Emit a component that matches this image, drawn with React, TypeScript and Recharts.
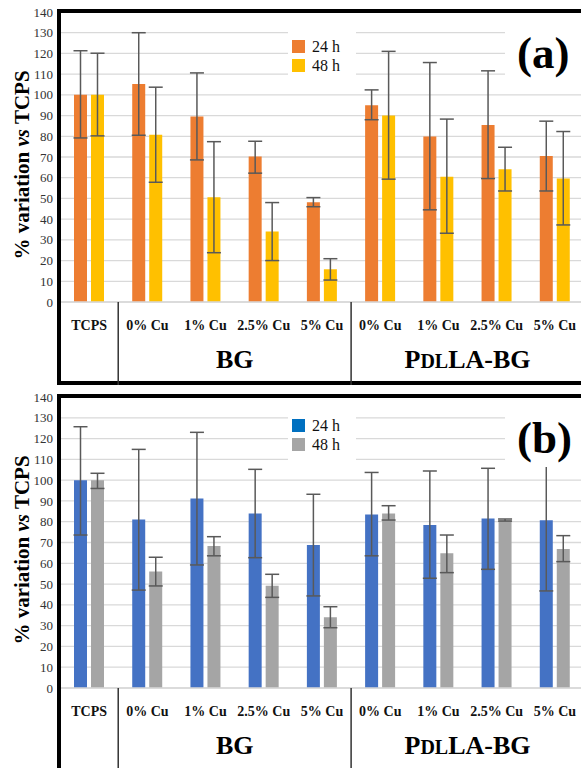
import { BarChart, Bar, XAxis, YAxis, CartesianGrid, ErrorBar } from 'recharts';

const FONT = '"Liberation Serif", "Times New Roman", serif';

// category labels, shared by both panels
const categories = ['TCPS', '0% Cu', '1% Cu', '2.5% Cu', '5% Cu', '0% Cu', '1% Cu', '2.5% Cu', '5% Cu'];
const yTicks = [0, 10, 20, 30, 40, 50, 60, 70, 80, 90, 100, 110, 120, 130, 140];

// panel (a)
const a24 = [100, 105.3, 89.5, 70.2, 48.2, 95, 79.9, 85.4, 70.5];
const a24Low = [79.2, 80.5, 68.6, 62.2, 46, 88, 44.5, 59.6, 53.6];
const a24High = [121.3, 130, 110.6, 77.6, 50.4, 102.4, 115.6, 111.6, 87.3];
const a48 = [100, 80.7, 50.6, 34, 15.8, 90, 60.5, 64.1, 59.6];
const a48Low = [80.2, 57.8, 23.8, 20, 10.6, 59.3, 33.2, 53.6, 37.2];
const a48High = [120.1, 103.7, 77.4, 48, 20.9, 121, 88.3, 74.7, 82.3];

// panel (b)
const b24 = [100, 81.1, 91.2, 84, 68.8, 83.5, 78.4, 81.6, 80.7];
const b24Low = [73.6, 47.1, 59.2, 62.7, 44.3, 63.6, 52.8, 57.1, 46.7];
const b24High = [125.7, 114.8, 123, 105.2, 93.2, 103.7, 104.4, 105.7, 114.7];
const b48 = [100, 56, 68.3, 49.2, 34, 84, 64.8, 80.8, 66.9];
const b48Low = [96, 49.1, 63.6, 43.6, 29, 80.8, 55.5, 80.3, 60.8];
const b48High = [103.3, 62.9, 72.8, 54.7, 39.1, 87.7, 73.6, 81.3, 73.3];

const PLOT_L = 60;
const PLOT_W = 524;
const BAND = PLOT_W / categories.length;

const buildData = (m24: number[], l24: number[], h24: number[], m48: number[], l48: number[], h48: number[]) =>
  categories.map((label, i) => ({
    id: 'c' + i,
    label,
    v24: m24[i],
    e24: [m24[i] - l24[i], h24[i] - m24[i]],
    v48: m48[i],
    e48: [m48[i] - l48[i], h48[i] - m48[i]],
  }));

const CatTick = ({ x, y, payload }: any) => (
  <text x={x} y={y} dy={28} textAnchor="middle" fontFamily={FONT} fontWeight="bold" fontSize={14} fill="#111">
    {categories[payload.index]}
  </text>
);

interface PanelProps {
  top: number;
  data: any[];
  c24: string;
  c48: string;
  leg24: string;
  leg48: string;
  letter: string;
  legY: number;
  axisH: number;
  boxH: number;
}

const Panel = ({ top, data, c24, c48, leg24, leg48, letter, legY, axisH, boxH }: PanelProps) => {
  const zeroY = 385 - axisH;
  const sep1 = PLOT_L + BAND * 1;
  const sep2 = PLOT_L + BAND * 5;
  return (
    <div style={{ position: 'absolute', left: 0, top, width: 581, height: 385 }}>
      <BarChart width={600} height={385} data={data} margin={{ top: 12, right: 16, left: 0, bottom: 0 }} barSize={13} barGap={4}>
        <CartesianGrid vertical={false} stroke="#d9d9d9" strokeWidth={1.3} />
        <XAxis dataKey="id" height={axisH} tick={<CatTick />} tickLine={false} axisLine={{ stroke: '#d9d9d9', strokeWidth: 1.3 }} tickSize={0} tickMargin={0} interval={0} />
        <YAxis
          width={60}
          domain={[0, 140]}
          ticks={yTicks}
          interval={0}
          tickLine={false}
          axisLine={false}
          tickSize={0}
          tickMargin={7}
          tick={{ fontFamily: FONT, fontSize: 13, fill: '#333' }}
        />
        <Bar dataKey="v24" fill={c24} isAnimationActive={false}>
          <ErrorBar dataKey="e24" width={7} stroke="#595959" strokeWidth={1.5} direction="y" />
        </Bar>
        <Bar dataKey="v48" fill={c48} isAnimationActive={false}>
          <ErrorBar dataKey="e48" width={7} stroke="#595959" strokeWidth={1.5} direction="y" />
        </Bar>
      </BarChart>

      {/* white patches behind legend and panel letter */}
      <div style={{ position: 'absolute', left: 288, top: 26, width: 68, height: 54, background: '#fff' }} />
      <div style={{ position: 'absolute', left: 505, top: 26, width: 80, height: 56, background: '#fff' }} />

      {/* frame */}
      <div style={{ position: 'absolute', left: 57, top: 9, width: 600, height: boxH, border: '4px solid #000', boxSizing: 'border-box' }} />

      <svg width={581} height={385} style={{ position: 'absolute', left: 0, top: 0, overflow: 'visible' }}>
        <line x1={sep1} x2={sep1} y1={zeroY} y2={boxH + 9} stroke="#333" strokeWidth={1.5} />
        <line x1={sep2} x2={sep2} y1={zeroY} y2={boxH + 9} stroke="#333" strokeWidth={1.5} />
        <text x={(sep1 + sep2) / 2} y={zeroY + 66} textAnchor="middle" fontFamily={FONT} fontWeight="bold" fontSize={26} fill="#000">
          BG
        </text>
        <text x={(sep2 + PLOT_L + PLOT_W) / 2} y={zeroY + 66} textAnchor="middle" fontFamily={FONT} fontWeight="bold" fontSize={26} fill="#000">
          P<tspan fontSize={20}>DL</tspan>LA-BG
        </text>

        <text transform="translate(29,165) rotate(-90)" textAnchor="middle" fontFamily={FONT} fontWeight="bold" fontSize={21} fill="#000">
          % variation <tspan fontStyle="italic">vs</tspan> TCPS
        </text>

        <rect x={292} y={legY} width={13} height={13} fill={leg24} />
        <rect x={292} y={legY + 19} width={13} height={13} fill={leg48} />
        <text x={312} y={legY + 12} fontFamily={FONT} fontSize={16} fill="#111">24 h</text>
        <text x={312} y={legY + 31} fontFamily={FONT} fontSize={16} fill="#111">48 h</text>

        <text x={517} y={68} fontFamily={FONT} fontWeight="bold" fontSize={45} fill="#000">
          {letter}
        </text>
      </svg>
    </div>
  );
};

export default function App() {
  const dataA = buildData(a24, a24Low, a24High, a48, a48Low, a48High);
  const dataB = buildData(b24, b24Low, b24High, b48, b48Low, b48High);
  return (
    <div style={{ position: 'absolute', left: 0, top: 0, width: 581, height: 768, overflow: 'hidden', background: '#fff' }}>
      <Panel top={0} data={dataA} c24="#ED7D31" c48="#FFC000" leg24="#ED7D31" leg48="#FFC000" letter="(a)" legY={40} axisH={83} boxH={376} />
      <Panel top={385} data={dataB} c24="#4472C4" c48="#A5A5A5" leg24="#0070C0" leg48="#A5A5A5" letter="(b)" legY={34} axisH={82} boxH={400} />
    </div>
  );
}
